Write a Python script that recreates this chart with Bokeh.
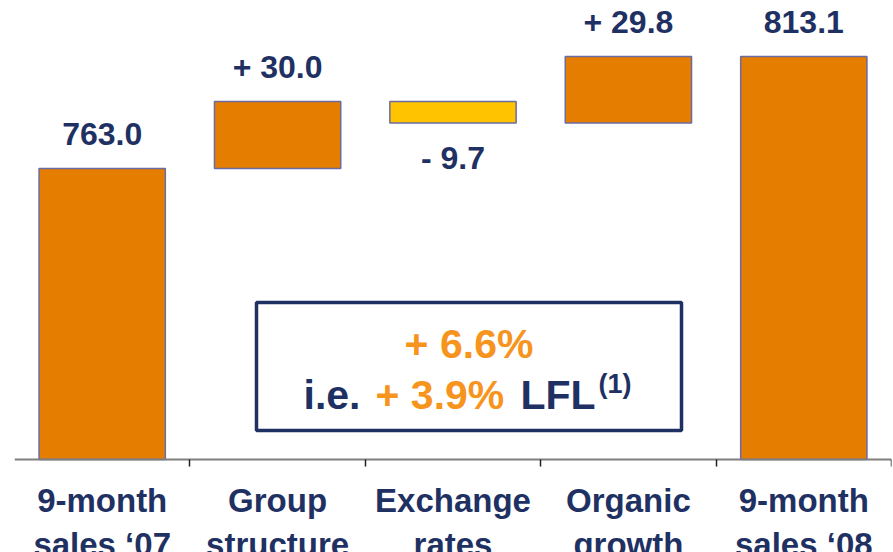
from bokeh.plotting import figure
from bokeh.models import (Range1d, FixedTicker, ColumnDataSource, Label,
                          BoxAnnotation, LinearAxis)
from bokeh.embed import file_html
from bokeh.resources import INLINE
from bokeh.core.properties import value

# ---- data -------------------------------------------------------------
cat_line1 = ["9-month", "Group", "Exchange", "Organic", "9-month"]
cat_line2 = ["sales \u201807", "structure", "rates", "growth", "sales \u201808"]
kinds = ["total", "step", "step", "step", "total"]
amounts = [763.0, 30.0, -9.7, 29.8, 813.1]
growth_reported = "+ 6.6%"
growth_lfl = "+ 3.9%"

# ---- styling ----------------------------------------------------------
ORANGE = "#E47D00"
YELLOW = "#FFC300"
OUTLINE = "#6B6BA3"
NAVY = "#1F3162"
TEXT_ORANGE = "#F7941D"
FONT = "Liberation Sans"

W, H = 893, 552
BORDER_L, BORDER_R = 14, 2
AXIS_ROW = 459                      # canvas row of the category axis
PX_PER_UNIT = 2.2355
Y1 = 838.15
Y0 = Y1 - H / PX_PER_UNIT           # frame spans the whole canvas height
BASE = Y1 - AXIS_ROW / PX_PER_UNIT  # value sitting on the category axis
FRAME_W = W - BORDER_L - BORDER_R
N = len(amounts)


def x_at(px):
    """Canvas pixel column -> x data coordinate."""
    return (px - BORDER_L) * N / FRAME_W


def y_at(py):
    """Canvas pixel row -> y data coordinate."""
    return Y1 - py / PX_PER_UNIT


# ---- waterfall geometry -------------------------------------------------
xs, bottoms, tops, colors, anchors, texts, offsets = [], [], [], [], [], [], []
running = 0.0
for i, (kind, amt) in enumerate(zip(kinds, amounts)):
    xs.append(i + 0.5)
    if kind == "total":
        bottoms.append(BASE)
        tops.append(amt)
        running = amt
        colors.append(ORANGE)
        texts.append(f"{amt:.1f}")
        anchors.append(amt)
        offsets.append(-34)
    else:
        start, end = running, running + amt
        bottoms.append(min(start, end))
        tops.append(max(start, end))
        running = end
        colors.append(ORANGE if amt >= 0 else YELLOW)
        sign = "+" if amt >= 0 else "-"
        texts.append(f"{sign} {abs(amt):.1f}")
        anchors.append(end)
        offsets.append(-34 if amt >= 0 else 35)

src = ColumnDataSource(dict(x=xs, bottom=bottoms, top=tops, color=colors,
                            anchor=anchors, label=texts, yoff=offsets))

p = figure(width=W, height=H, x_range=Range1d(0, N), y_range=Range1d(Y0, Y1),
           output_backend="svg", toolbar_location=None,
           y_axis_location=None, x_axis_location=None,
           min_border_left=BORDER_L, min_border_right=BORDER_R,
           min_border_top=0, min_border_bottom=0)
p.outline_line_color = None
p.xgrid.visible = False
p.ygrid.visible = False
p.background_fill_color = "white"
p.border_fill_color = "white"

p.vbar(x="x", bottom="bottom", top="top", width=0.72, fill_color="color",
       line_color=OUTLINE, line_width=1.5, source=src)

p.text(x="x", y="anchor", text="label", y_offset="yoff", source=src,
       text_align="center", text_baseline="alphabetic",
       text_font=value(FONT), text_font_style="bold",
       text_font_size="32px", text_color=NAVY)

# category axis: names under each bar, separators between categories
centers = [i + 0.5 for i in range(N)]
ax = LinearAxis(fixed_location=BASE)
ax.ticker = FixedTicker(ticks=centers, minor_ticks=list(range(1, N + 1)))
ax.major_label_overrides = {c: f"{a}\n{b}" for c, a, b in
                            zip(centers, cat_line1, cat_line2)}
ax.major_label_text_font = FONT
ax.major_label_text_font_style = "bold"
ax.major_label_text_font_size = "33px"
ax.major_label_text_color = NAVY
ax.major_label_text_line_height = 1.2
ax.major_label_standoff = 15
ax.major_tick_line_color = None
ax.major_tick_in = 0
ax.major_tick_out = 0
ax.axis_line_color = "#7F7F7F"
ax.axis_line_width = 2
ax.minor_tick_in = 0
ax.minor_tick_out = 7
ax.minor_tick_line_color = "#222222"
ax.minor_tick_line_width = 1.5
p.add_layout(ax, "below")

# growth summary box
p.add_layout(BoxAnnotation(left=x_at(256), right=x_at(681),
                           top=y_at(302), bottom=y_at(430),
                           fill_color="white", fill_alpha=1.0,
                           line_color=NAVY, line_alpha=1.0, line_width=3.5))

SHIFT = 14
p.add_layout(Label(x=x_at(468.5), y=y_at(357 - SHIFT), text=growth_reported,
                   text_align="center", text_baseline="alphabetic",
                   text_font=FONT, text_font_style="bold",
                   text_font_size="41px", text_color=TEXT_ORANGE))

line2_parts = [("i.e.", 303, 408, "41px", NAVY),
               (growth_lfl, 375, 408, "41px", TEXT_ORANGE),
               ("LFL", 520, 408, "41px", NAVY),
               ("(1)", 598, 397, "27px", NAVY)]
for txt, px, py, size, col in line2_parts:
    p.add_layout(Label(x=x_at(px), y=y_at(py - SHIFT), text=txt,
                       text_align="left", text_baseline="alphabetic",
                       text_font=FONT, text_font_style="bold",
                       text_font_size=size, text_color=col))

open("out.html", "w").write(file_html(p, INLINE))
